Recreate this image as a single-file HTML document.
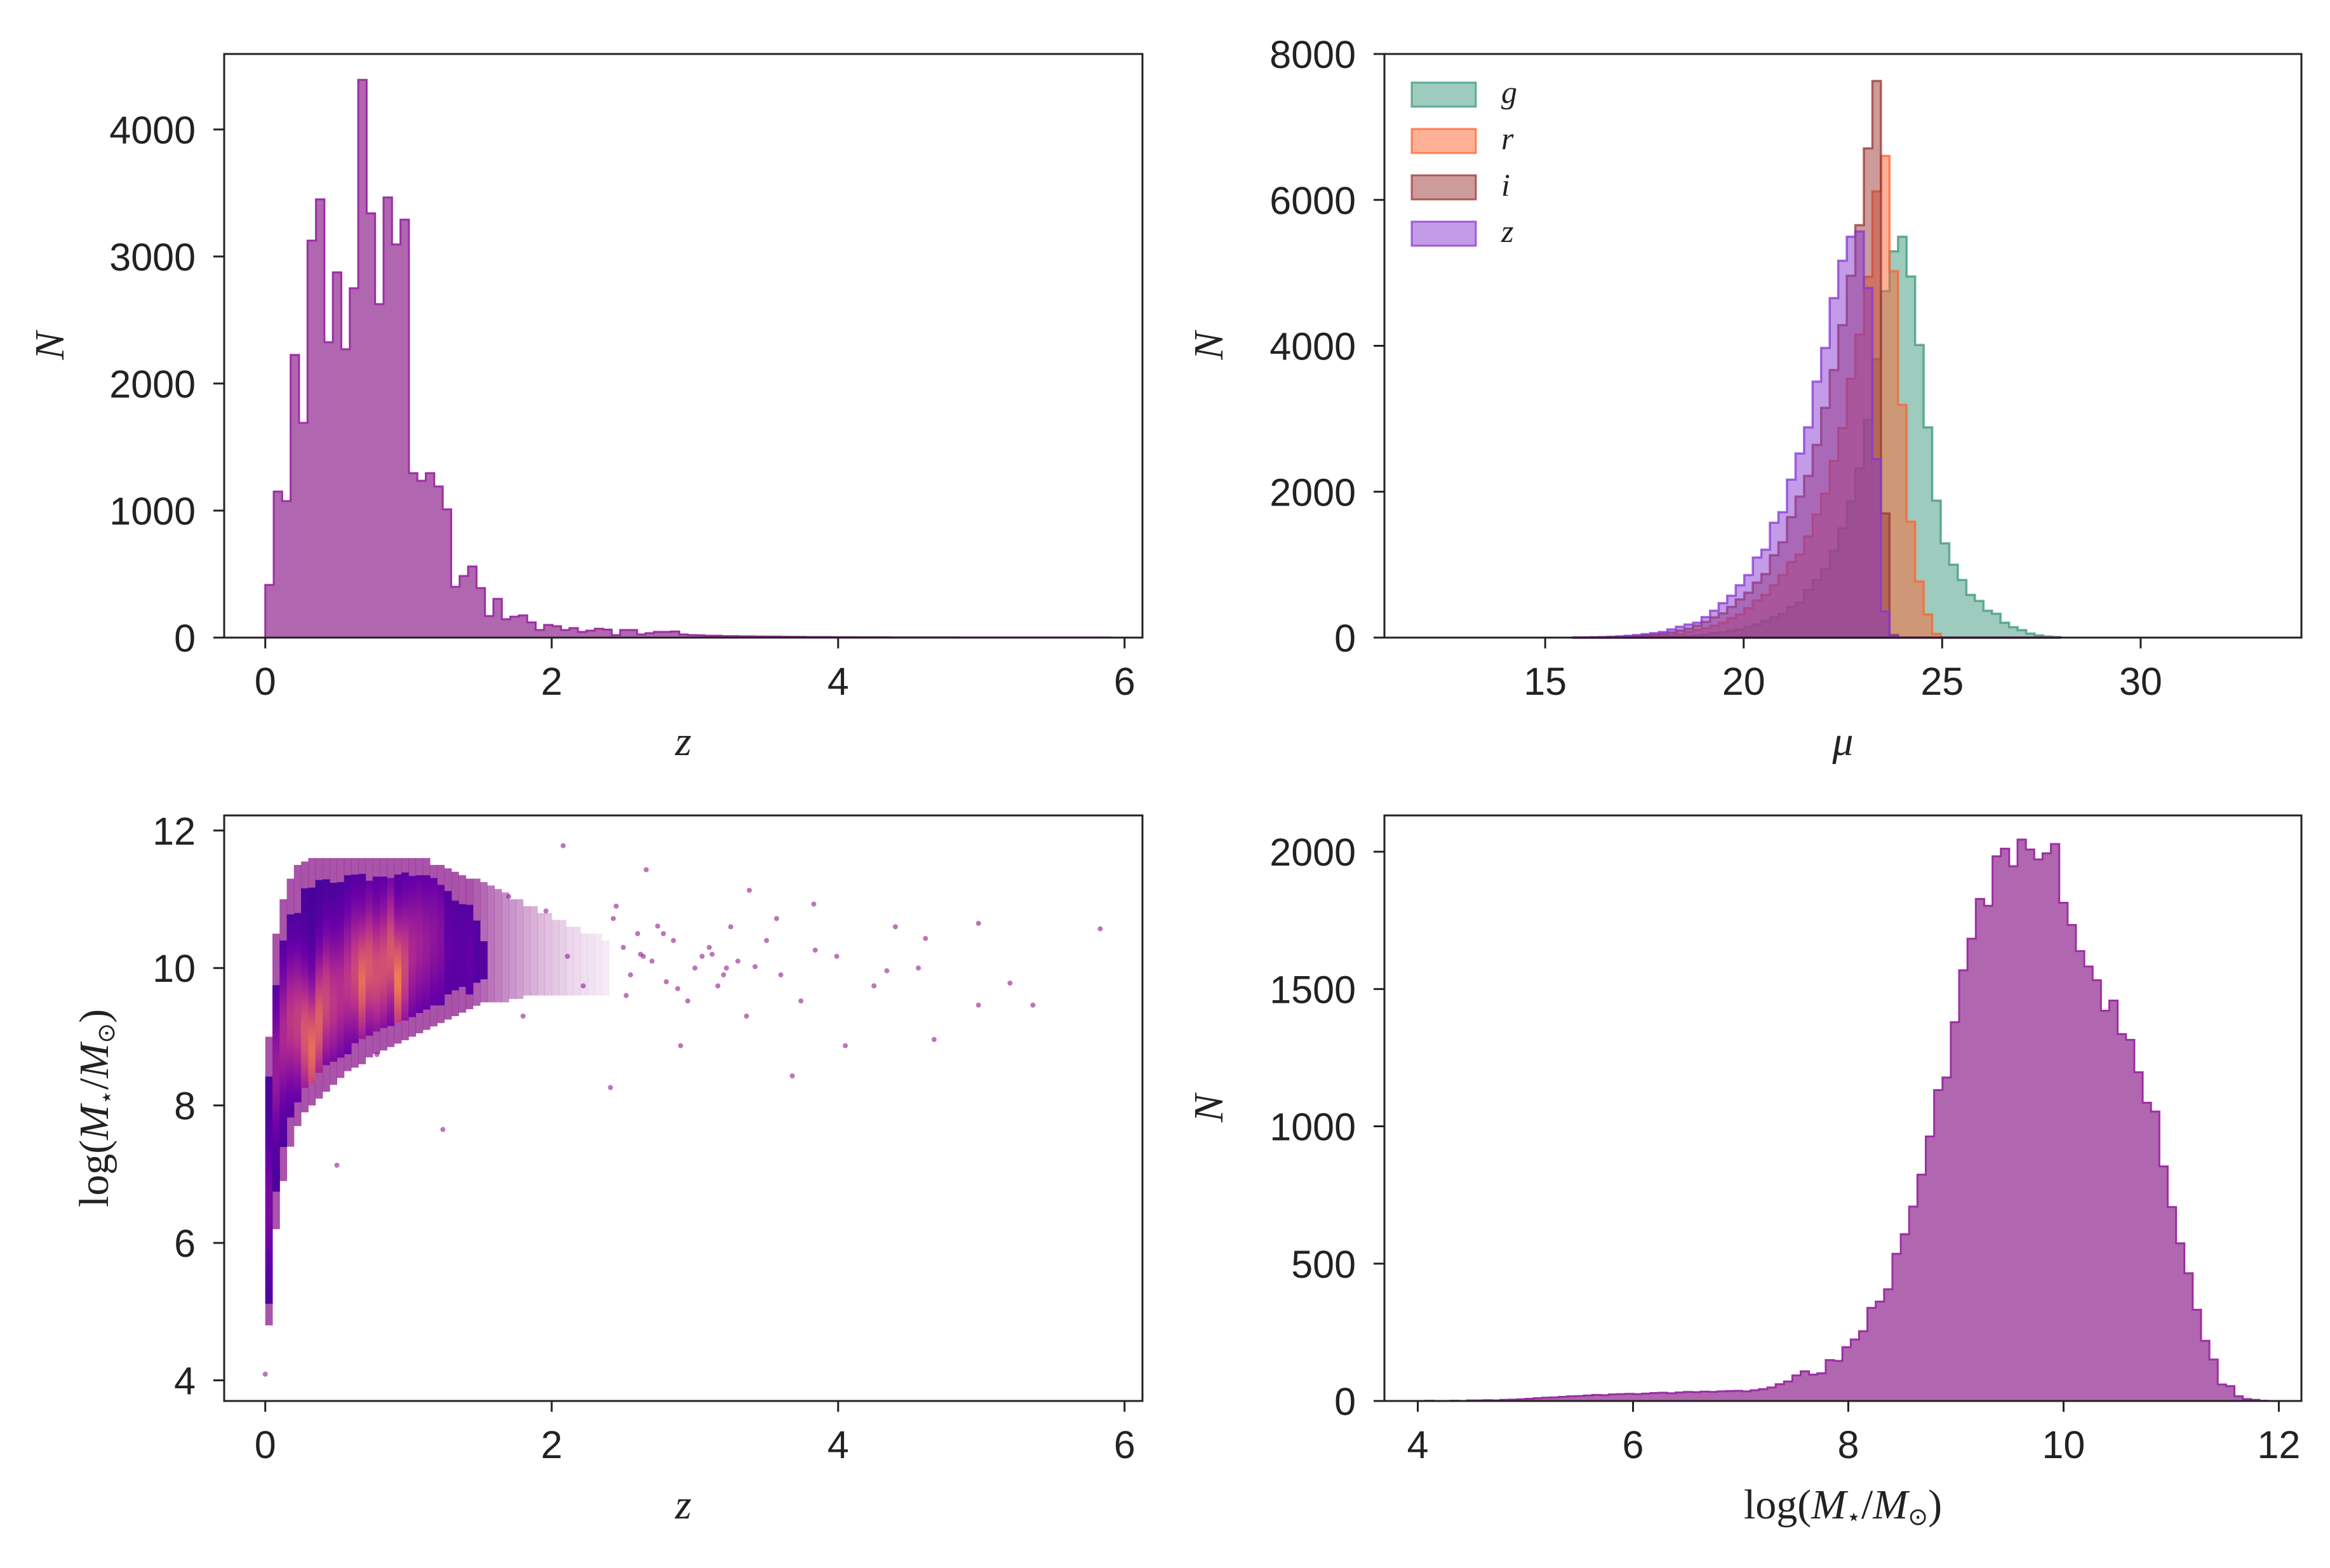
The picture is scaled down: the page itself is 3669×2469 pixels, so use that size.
<!DOCTYPE html>
<html><head><meta charset="utf-8">
<style>
html,body{margin:0;padding:0;background:#fff;}
svg{display:block;}
.tick{font-family:"Liberation Sans",sans-serif;font-size:61px;fill:#222;}
.lab{font-family:"Liberation Serif",serif;font-style:italic;font-size:66px;fill:#222;}
.leg{font-family:"Liberation Serif",serif;font-style:italic;font-size:50px;fill:#222;}
</style></head>
<body>
<svg id="fig" width="3669" height="2469" viewBox="0 0 3669 2469" xmlns="http://www.w3.org/2000/svg">
<rect x="0" y="0" width="3669" height="2469" fill="#fff"/>
<g id="tl"></g>
<g id="tr"></g>
<g id="bl"></g>
<g id="br"></g>
</svg>
<script>
// ---------- data: redshift histogram ----------
const zBinStart = 0;
const zBinWidth = 0.059;
const zCounts = [415,1150,1075,2225,1690,3125,3450,2325,2875,2270,2750,4390,3340,2625,3465,3095,3290,1295,1235,1295,1190,1010,400,485,560,390,170,305,145,165,175,120,60,100,90,60,75,45,55,70,63,20,60,60,25,35,45,45,48,25,20,18,15,15,12,12,10,10,9,8,8,7,6,6,5,5,5,4,4,4,3,3,3,3,2,2,2,2,2,2,2,2,1,1,1,1,1,1,1,1,1,1,1,1,1,1,1,1,1,1];
// ---------- data: magnitude histograms ----------
const muBinStart = 23.458 - 36*0.2152;
const muBinWidth = 0.2152;
const gCounts = [0,0,0,1,1,1,2,2,3,5,7,10,15,22,30,41,62,72,92,113,149,180,231,277,328,421,482,652,790,944,1190,1498,1868,2319,2986,3817,4750,5295,5495,4951,4012,2883,1878,1293,1000,790,585,503,369,328,205,144,103,56,31,15,8];
const rCounts = [0,1,2,3,5,8,11,15,20,26,30,36,51,77,103,128,164,205,267,318,405,508,585,718,857,1036,1139,1385,1688,1975,2422,2873,3550,4156,4946,6116,6603,5023,3191,1590,770,318,51,0,0,0,0,0,0,0,0,0,0,0,0,0,0];
const iCounts = [1,2,3,5,8,12,18,25,35,45,55,72,97,123,164,215,277,333,421,523,616,754,872,1129,1308,1652,1934,2216,2642,3150,3668,4284,4961,5654,6706,7630,1703,36,0,0,0,0,0,0,0,0,0,0,0,0,0,0,0,0,0,0,0];
const zbCounts = [2,3,5,8,12,17,25,35,48,62,77,113,149,180,205,282,369,472,575,718,857,1098,1206,1575,1719,2165,2524,2883,3509,3971,4654,5167,5495,5567,4792,2447,359,26,0,0,0,0,0,0,0,0,0,0,0,0,0,0,0,0,0,0,0];
const bandNames = ["g","r","i","z"];
// ---------- data: stellar mass histogram ----------
const mBinStart = 4.07;
const mBinWidth = 0.0775;
const mCounts = [1,0,0,1,0,2,2,3,2,4,5,6,8,10,12,13,15,17,18,20,22,21,24,25,26,25,27,29,30,28,31,33,32,34,33,35,36,
37,35,39,43,49,61,71,93,108,96,101,149,146,196,224,254,339,362,407,536,607,708,824,963,1132,1178,1379,1568,1683,1828,1803,1983,2011,1947,2044,2008,1972,1994,2028,1814,1733,1638,1582,1532,1421,1458,1336,1315,1197,1086,1054,854,706,574,465,332,219,151,60,54,17,7,4,1];
// ---------- data: mass vs redshift density ----------
const colZ0 = 0;
const colZWidth = 0.05;
const denseLo = [5.12,6.75,7.40,7.83,8.05,8.26,8.32,8.48,8.59,8.64,8.70,8.75,8.91,8.97,9.02,9.08,9.13,9.16,9.21,9.24,9.29,9.35,9.40,9.46,9.46,9.62,9.68,9.73,9.62,9.79,9.84];
const denseHi = [8.37,9.73,10.38,10.76,10.76,11.14,11.14,11.25,11.25,11.22,11.22,11.35,11.35,11.35,11.25,11.30,11.30,11.30,11.35,11.35,11.30,11.35,11.35,11.30,11.19,11.08,10.98,10.92,10.92,10.65,10.38];
const densePeak = [0.2,0.35,0.45,0.55,0.6,0.75,0.85,0.8,0.65,0.55,0.5,0.55,0.65,0.85,0.75,0.7,0.7,0.75,0.9,0.65,0.45,0.4,0.35,0.3,0.25,0.1,0.08,0.08,0.1,0.05,0.05];
const densePeakM = [6.5,8.5,9.0,9.2,9.2,9.0,8.8,9.2,9.5,9.5,9.6,9.8,9.9,9.8,10.0,9.9,10.0,10.2,9.8,10.0,10.2,10.3,10.3,10.4,10.4,10.3,10.2,10.2,10.2,10.2,10.2];
const haloLo = [4.8,6.2,6.9,7.4,7.7,7.9,8.0,8.1,8.2,8.3,8.4,8.5,8.55,8.6,8.7,8.75,8.8,8.85,8.9,8.95,9.0,9.05,9.1,9.15,9.2,9.25,9.3,9.35,9.4,9.45,9.5,9.5,9.5,9.5,9.55,9.55,9.6,9.6,9.6,9.6,9.6,9.6,9.6,9.6,9.6,9.6,9.6,9.6];
const haloHi = [9.0,10.5,11.0,11.3,11.5,11.55,11.6,11.6,11.6,11.6,11.6,11.6,11.6,11.6,11.6,11.6,11.6,11.6,11.6,11.6,11.6,11.6,11.6,11.5,11.5,11.45,11.4,11.35,11.3,11.3,11.25,11.2,11.15,11.1,11.0,11.0,10.9,10.9,10.8,10.8,10.7,10.7,10.6,10.6,10.5,10.5,10.5,10.4];
const haloDensity = [0.75,0.75,0.75,0.75,0.75,0.75,0.75,0.75,0.75,0.75,0.75,0.75,0.75,0.75,0.75,0.75,0.75,0.75,0.75,0.75,0.75,0.75,0.75,0.75,0.75,0.75,0.75,0.75,0.75,0.7,0.65,0.6,0.55,0.5,0.46,0.42,0.38,0.34,0.3,0.27,0.24,0.21,0.18,0.16,0.14,0.12,0.1,0.09];
const outZ = [2.08,2.66,3.38,3.84,4.34,4.61,4.98,5.2,5.36,5.83,4.98,4.67,3.68,4.05,2.9,2.41,1.24,0.78,0.5,0.0,3.42,3.74,3.99,3.05,2.74,3.16,3.57,2.43,2.22,1.8,4.4,4.25,4.56,3.83,3.36,2.95,2.64,2.11,1.96,1.7,2.5,2.55,2.6,2.7,2.8,2.85,3.0,3.1,3.2,3.25,3.3,2.45,2.52,2.62,2.78,2.88,3.12,3.22,3.5,3.6];
const outM = [11.78,11.43,11.13,10.26,9.96,10.43,10.65,9.78,9.46,10.57,9.46,8.96,8.43,8.87,8.87,8.26,7.65,8.74,7.13,4.09,10.02,9.52,10.17,10.17,10.61,9.74,10.72,10.72,9.74,9.3,10.6,9.74,10.0,10.93,9.3,9.52,10.17,10.17,10.83,11.04,10.3,9.9,10.5,10.1,9.8,10.4,10.0,10.3,9.9,10.6,10.1,10.9,9.6,10.2,10.5,9.7,10.2,10.0,10.4,9.9];

// ---------- helpers ----------
const NS = "http://www.w3.org/2000/svg";
function mk(tag, attrs, parent){ const e=document.createElementNS(NS,tag); for(const k in attrs) e.setAttribute(k,attrs[k]); if(parent) parent.appendChild(e); return e; }
function scale(d0,d1,r0,r1){ return v => r0 + (v-d0)/(d1-d0)*(r1-r0); }
function stepPath(start,width,counts,xs,ys){
  let d = "M"+xs(start)+","+ys(0);
  for(let i=0;i<counts.length;i++){
    const x0=xs(start+i*width), x1=xs(start+(i+1)*width), y=ys(counts[i]);
    d += " L"+x0+","+y+" L"+x1+","+y;
  }
  d += " L"+xs(start+counts.length*width)+","+ys(0)+" Z";
  return d;
}
function axes(g, box, xs, ys, xticks, yticks, xlabel, ylabel, ylabX){
  for(const t of xticks){
    const x = xs(t);
    const tk = mk("line",{x1:x,x2:x,y1:box.y1,y2:box.y1+17,stroke:"#222","stroke-width":3},g);
    
    
    const tx = mk("text",{x:x,y:box.y1+90,"text-anchor":"middle",class:"tick"},g);
    tx.textContent = t;
    
    
  }
  for(const t of yticks){
    const y = ys(t);
    const tk = mk("line",{x1:box.x0-17,x2:box.x0,y1:y,y2:y,stroke:"#222","stroke-width":3},g);
    
    
    const tx = mk("text",{x:box.x0-45,y:y+22,"text-anchor":"end",class:"tick"},g);
    tx.textContent = t;
    
    
  }
  const fr = mk("rect",{x:box.x0,y:box.y0,width:box.x1-box.x0,height:box.y1-box.y0,fill:"none",stroke:"#222","stroke-width":3},g);
  
  
  const xl = mk("text",{x:(box.x0+box.x1)/2,y:box.y1+185,"text-anchor":"middle",class:"lab"},g);
  xl.innerHTML = xlabel;
  
  
  const cy=(box.y0+box.y1)/2;
  const yl = mk("text",{x:ylabX,y:cy,"text-anchor":"middle",class:"lab",transform:"rotate(-90 "+ylabX+" "+cy+")"},g);
  yl.innerHTML = ylabel;
  
  
}
const massLabel = '<tspan font-style="normal">log(</tspan><tspan>M</tspan><tspan font-size="38" dy="10" font-style="normal">⋆</tspan><tspan dy="-10" font-style="normal">/</tspan><tspan>M</tspan><tspan font-size="38" dy="10" font-style="normal">⊙</tspan><tspan dy="-10" font-style="normal">)</tspan>';

// ---------- top-left ----------
(function(){
  const g=document.getElementById("tl");
  const box={x0:353,x1:1799,y0:85,y1:1004};
  const xs=scale(-0.287,6.125,box.x0,box.x1), ys=scale(0,4594,box.y1,box.y0);
  const p=mk("path",{d:stepPath(zBinStart,zBinWidth,zCounts,xs,ys),fill:"#b166b0",stroke:"#9b2fa3","stroke-width":3,"stroke-linejoin":"miter"},g);
  
  
  axes(g,box,xs,ys,[0,2,4,6],[0,1000,2000,3000,4000],'z','N',100);
})();

// ---------- top-right ----------
(function(){
  const g=document.getElementById("tr");
  const box={x0:2180,x1:3624,y0:85,y1:1004};
  const xs=scale(10.95,34.05,box.x0,box.x1), ys=scale(0,8000,box.y1,box.y0);
  const series=[gCounts,rCounts,iCounts,zbCounts];
  const cols=["#3b977b","#ff632f","#993735","#8737d1"];
  series.forEach((c,k)=>{
    const p=mk("path",{d:stepPath(muBinStart,muBinWidth,c,xs,ys),fill:cols[k],"fill-opacity":0.5,stroke:cols[k],"stroke-opacity":0.75,"stroke-width":3.5},g);
    
    
  });
  axes(g,box,xs,ys,[15,20,25,30],[0,2000,4000,6000,8000],'μ','N',1925);
  bandNames.forEach((n,k)=>{
    const y=130+k*73;
    const sw=mk("rect",{x:2223,y:y,width:101,height:38,fill:cols[k],"fill-opacity":0.5,stroke:cols[k],"stroke-opacity":0.75,"stroke-width":3},g);
    
    
    const t=mk("text",{x:2364,y:y+32,class:"leg"},g);
    t.textContent=n;
    
    
  });
})();

// ---------- bottom-left ----------
function plasma(t){
  const st=[[0,[13,8,135]],[0.25,[106,0,168]],[0.5,[177,42,144]],[0.75,[225,100,98]],[0.9,[252,166,54]],[1,[240,249,33]]];
  t=Math.max(0,Math.min(1,t));
  for(let i=1;i<st.length;i++){ if(t<=st[i][0]){ const a=st[i-1],b=st[i],f=(t-a[0])/(b[0]-a[0]); const c=a[1].map((v,j)=>Math.round(v+(b[1][j]-v)*f)); return "rgb("+c.join(",")+")"; } }
  return "rgb(240,249,33)";
}
(function(){
  const g=document.getElementById("bl");
  const box={x0:353,x1:1799,y0:1284,y1:2206};
  const xs=scale(-0.287,6.125,box.x0,box.x1), ys=scale(3.70,12.22,box.y1,box.y0);
  haloLo.forEach((lo,i)=>{
    const z0=colZ0+i*colZWidth;
    const r=mk("rect",{x:xs(z0),y:ys(haloHi[i]),width:xs(z0+colZWidth)-xs(z0)+0.5,height:ys(lo)-ys(haloHi[i]),fill:"#8e1a8e","fill-opacity":haloDensity[i]},g);
    
    
  });
  outZ.forEach((z,i)=>{
    const c=mk("circle",{cx:xs(z),cy:ys(outM[i]),r:4,fill:"#8e1a8e","fill-opacity":0.6},g);
    
    
  });
  const dm=0.05;
  denseLo.forEach((lo,i)=>{
    const z0=colZ0+i*colZWidth;
    for(let m=lo;m<denseHi[i];m+=dm){
      const t=0.16+0.72*densePeak[i]*Math.exp(-Math.pow((m-densePeakM[i])/0.9,2));
      const r=mk("rect",{x:xs(z0),y:ys(m+dm),width:xs(z0+colZWidth)-xs(z0)+0.5,height:ys(m)-ys(m+dm)+0.5,fill:plasma(t)},g);
      
      
    }
  });
  axes(g,box,xs,ys,[0,2,4,6],[4,6,8,10,12],'z',massLabel,170);
})();

// ---------- bottom-right ----------
(function(){
  const g=document.getElementById("br");
  const box={x0:2180,x1:3624,y0:1284,y1:2206};
  const xs=scale(3.69,12.21,box.x0,box.x1), ys=scale(0,2132,box.y1,box.y0);
  const p=mk("path",{d:stepPath(mBinStart,mBinWidth,mCounts,xs,ys),fill:"#b166b0",stroke:"#9b2fa3","stroke-width":3},g);
  
  
  axes(g,box,xs,ys,[4,6,8,10,12],[0,500,1000,1500,2000],massLabel,'N',1925);
})();
</script>
</body></html>
